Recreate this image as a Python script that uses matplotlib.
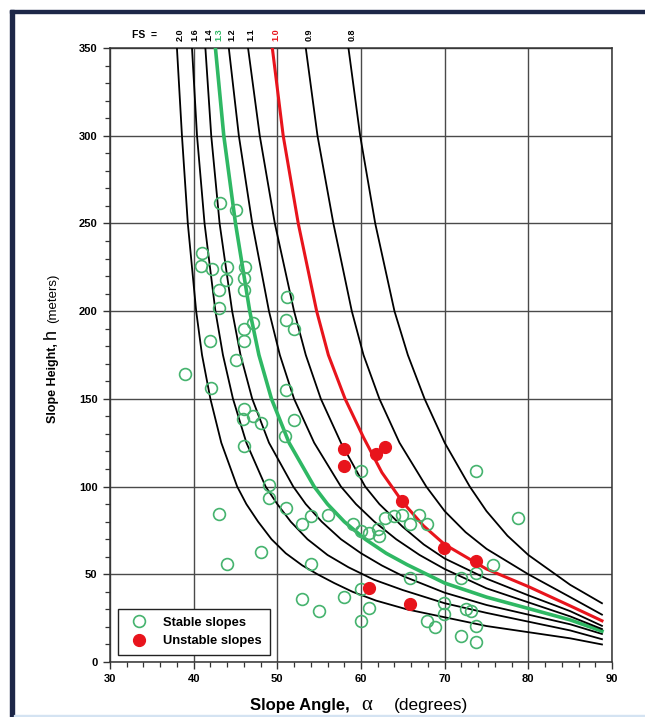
import matplotlib
matplotlib.use('Agg')
import matplotlib.pyplot as plt
from matplotlib.ticker import MultipleLocator
from matplotlib.lines import Line2D
from matplotlib.patches import Rectangle
from matplotlib.transforms import IdentityTransform, blended_transform_factory

plt.rcParams['font.family'] = ['Liberation Sans', 'DejaVu Sans']

# factor of safety curves (alpha in degrees, h in meters)
fs_labels = ['2.0', '1.6', '1.4', '1.3', '1.2', '1.1', '1.0', '0.9', '0.8']

alpha_fs20 = [38.0, 38.6, 39.3, 40.3, 41.0, 42.0, 43.3, 45.2, 46.3, 47.7, 49.3, 51.0,
              53.0, 54.8, 56.8, 59.0, 61.8, 65.5, 70, 75, 80, 85, 88.8]
h_fs20 = [350, 300, 250, 200, 175, 150, 125, 100, 90, 80, 70, 62,
          55, 50, 45, 40, 35, 30, 25.5, 20.5, 17, 13.5, 10]

alpha_fs16 = [39.8, 40.4, 41.3, 42.6, 43.5, 44.7, 46.3, 48.6, 50.0, 51.6, 53.6, 56.0,
              58.5, 61.5, 65, 70, 75, 80, 85, 88.8]
h_fs16 = [350, 300, 250, 200, 175, 150, 125, 100, 90, 80, 70, 61,
          54, 47, 41, 33.5, 28, 23, 18, 13]

alpha_fs14 = [41.4, 42.1, 43.1, 44.6, 45.6, 47.0, 49.0, 51.9, 53.4, 55.3, 57.6, 60,
              62.5, 65, 70, 75, 80, 85, 88.8]
h_fs14 = [350, 300, 250, 200, 175, 150, 125, 100, 90, 80, 70, 62,
          55, 49, 39.5, 32.5, 27, 21.5, 16]

alpha_fs13 = [42.6, 43.6, 45.0, 46.7, 47.8, 49.3, 51.4, 54.4, 56.0, 58.0, 60.5, 63,
              65.5, 70, 75, 80, 85, 88.8]
h_fs13 = [350, 300, 250, 200, 175, 150, 125, 100, 90, 80, 70, 62,
          55.5, 45, 37, 30.5, 24, 17.6]

alpha_fs12 = [44.2, 45.4, 47.0, 49.0, 50.3, 52.0, 54.4, 57.6, 59.4, 61.6, 64.2, 67,
              70, 75, 80, 85, 88.8]
h_fs12 = [350, 300, 250, 200, 175, 150, 125, 100, 90, 80, 70, 61,
          53, 42, 34, 26, 18.8]

alpha_fs11 = [46.5, 47.9, 49.7, 52.0, 53.4, 55.2, 57.6, 60.5, 62.2, 65, 67.5, 70,
              75, 80, 85, 88.8]
h_fs11 = [350, 300, 250, 200, 175, 150, 125, 100, 90, 77, 67, 59,
          47.5, 38, 29, 20.6]

alpha_fs10 = [49.4, 50.7, 52.5, 54.7, 56.1, 58.1, 60.3, 62.5, 65, 67.5, 70, 75,
              80, 85, 88.8]
h_fs10 = [350, 300, 250, 200, 175, 150, 128, 108, 91, 77.5, 67, 53,
          43, 32, 23.5]

alpha_fs09 = [53.4, 54.8, 56.7, 58.9, 60.3, 62.2, 64.6, 67.8, 70, 72.5, 75, 80,
              85, 88.8]
h_fs09 = [350, 300, 250, 200, 175, 150, 125, 100, 86, 74, 64.5, 50,
          37, 27]

alpha_fs08 = [58.5, 59.9, 61.7, 64.0, 65.6, 67.6, 70.0, 73.0, 75, 77.5, 80, 85, 88.8]
h_fs08 = [350, 300, 250, 200, 175, 150, 125, 100, 86, 72, 61, 44, 33.5]

# observed slopes
stable_alpha = [43.1, 45.0, 41.0, 40.9, 42.2, 44.0, 46.1, 43.9, 46.0, 46.0, 43.0, 43.0,
                51.1, 47.1, 46.0, 51.0, 52.0, 42.0, 46.0, 45.0, 39.0, 42.1, 51.0, 46.0,
                47.1, 45.9, 48.0, 52.0, 50.9, 46.0, 49.0, 49.0, 51.0, 52.9, 43.0, 48.0,
                44.0, 53.0, 54.0, 54.0, 60.0, 73.8, 56.0, 59.0, 60.0, 61.0, 62.0, 62.1,
                62.9, 63.9, 64.9, 65.9, 66.9, 67.9, 78.8, 65.9, 71.9, 73.8, 75.8, 55.0,
                58.0, 60.0, 61.0, 60.0, 67.9, 68.9, 69.9, 69.9, 71.9, 73.8, 72.5, 73.1,
                73.8]
stable_h = [261.5, 257.8, 233, 226, 224, 225, 225, 218, 219, 212, 212, 202,
            208, 193, 190, 195, 190, 183, 183, 172, 164, 156, 155, 144,
            140, 138.5, 136, 137.7, 128.6, 123, 101, 93.6, 87.9, 78.4, 84.5, 62.7,
            56, 35.8, 83, 55.7, 108.7, 108.7, 84, 78.4, 74.6, 73.7, 75.6, 71.8,
            82.2, 83, 84, 78.4, 84, 78.4, 82.2, 48.1, 48.1, 51, 55.3, 29.2,
            36.8, 41.5, 31, 23.5, 23.5, 19.7, 33.9, 27.3, 15, 11.2, 30, 29,
            20.3]

unstable_alpha = [58.0, 58.0, 61.8, 62.9, 64.9, 69.9, 73.8, 61.0, 65.9]
unstable_h = [121.4, 111.5, 118.6, 122.6, 91.7, 65.2, 57.6, 41.9, 33.3]

W, H = 645, 717
fig = plt.figure(figsize=(W / 100, H / 100), dpi=100)
fig.patch.set_facecolor('white')
ax = fig.add_axes([110 / W, 1 - 662 / H, 502 / W, 614 / H])

green = '#2fb864'
red = '#e8141c'
curves = [(alpha_fs20, h_fs20), (alpha_fs16, h_fs16), (alpha_fs14, h_fs14),
          (alpha_fs13, h_fs13), (alpha_fs12, h_fs12), (alpha_fs11, h_fs11),
          (alpha_fs10, h_fs10), (alpha_fs09, h_fs09), (alpha_fs08, h_fs08)]
lab_tr = blended_transform_factory(ax.transData, ax.transAxes)
for (a, h), lab in zip(curves, fs_labels):
    if lab == '1.3':
        col, lw = green, 2.6
    elif lab == '1.0':
        col, lw = red, 2.2
    else:
        col, lw = 'black', 1.3
    ax.plot(a, h, color=col, lw=lw, zorder=3, solid_joinstyle='round')
    ax.text(a[0] + 0.4, 1.022, lab, transform=lab_tr, rotation=90,
            ha='center', va='center', fontsize=6.5, fontweight='bold',
            color=col, clip_on=False)
fig.text(144, H - 35, 'FS  =', transform=IdentityTransform(), ha='center',
         va='center', fontsize=7.5, fontweight='bold')

ax.plot(stable_alpha, stable_h, 'o', mfc='none', mec='#45b36e', mew=1.2, ms=8.5, zorder=4)
ax.plot(unstable_alpha, unstable_h, 'o', mfc=red, mec=red, ms=8.5, zorder=5)

ax.set_xlim(30, 90)
ax.set_ylim(0, 350)
ax.xaxis.set_major_locator(MultipleLocator(10))
ax.xaxis.set_minor_locator(MultipleLocator(2))
ax.yaxis.set_major_locator(MultipleLocator(50))
ax.yaxis.set_minor_locator(MultipleLocator(10))
ax.grid(True, which='major', color='#4a4a4a', lw=1.0)
ax.set_axisbelow(True)
for sp in ax.spines.values():
    sp.set_color('#333333')
    sp.set_linewidth(1.1)
ax.tick_params(which='major', direction='out', length=5, width=1, pad=4,
               labelsize=8, color='#333333')
ax.tick_params(which='minor', direction='out', length=3.5, width=0.9, color='#333333')
for t in ax.get_xticklabels() + ax.get_yticklabels():
    t.set_fontweight('bold')

leg_handles = [
    Line2D([], [], marker='o', ls='none', mfc='none', mec='#45b36e', mew=1.2, ms=8.5),
    Line2D([], [], marker='o', ls='none', mfc=red, mec=red, ms=8.5),
]
leg = ax.legend(leg_handles, ['Stable slopes', 'Unstable slopes'], loc='lower left',
                bbox_to_anchor=(0.016, 0.011), borderaxespad=0, fancybox=False,
                framealpha=1, edgecolor='#222222', prop={'weight': 'bold', 'size': 9.3},
                handletextpad=0.9, labelspacing=0.5, borderpad=0.6)
leg.get_frame().set_linewidth(1.0)
leg.set_zorder(6)

# composite axis labels, placed piece by piece in pixels
renderer = fig.canvas.get_renderer()


def put_label(pieces, gaps, center, base, vertical=False):
    texts = []
    sizes = []
    for s, kw in pieces:
        t = fig.text(0, 0, s, transform=IdentityTransform(), rotation=90 if vertical else 0,
                     rotation_mode='anchor', ha='left', va='baseline', **kw)
        bb = t.get_window_extent(renderer)
        texts.append(t)
        sizes.append(bb.height if vertical else bb.width)
    total = sum(sizes) + sum(gaps)
    pos = center - total / 2
    for i, (t, s) in enumerate(zip(texts, sizes)):
        if vertical:
            t.set_position((base, pos))
        else:
            t.set_position((pos, base))
        pos += s + (gaps[i] if i < len(gaps) else 0)


put_label([('Slope Angle,', dict(fontsize=12, fontweight='bold')),
           ('α', dict(fontsize=15, family='Liberation Serif')),
           ('(degrees)', dict(fontsize=12.5))], gaps=[12, 22],
          center=359, base=H - 710)
put_label([('Slope Height,', dict(fontsize=9, fontweight='bold')),
           ('h', dict(fontsize=13)),
           ('(meters)', dict(fontsize=9.5))], gaps=[4, 6],
          center=H - 348, base=56, vertical=True)

# screenshot frame
fig.patches.append(Rectangle((10, H - 13), W - 10, 3, transform=IdentityTransform(),
                             color='#1d2748', zorder=10))
fig.patches.append(Rectangle((10, 0), 4, H - 10, transform=IdentityTransform(),
                             color='#1d2748', zorder=10))
fig.patches.append(Rectangle((14, 0), W - 14, 2, transform=IdentityTransform(),
                             color='#d4e3f2', zorder=10))

fig.savefig('out.png', dpi=100)
